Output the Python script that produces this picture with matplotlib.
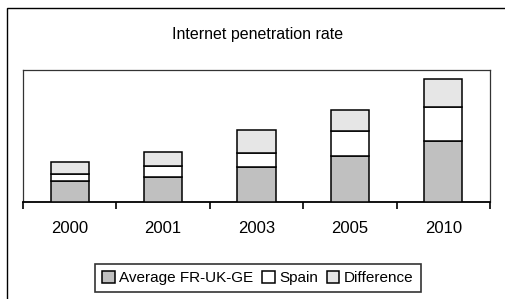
import matplotlib
matplotlib.use("Agg")
import matplotlib.pyplot as plt
from matplotlib.patches import Rectangle
import numpy as np

years = ["2000", "2001", "2003", "2005", "2010"]
avg_fr_uk_ge = [15.9, 19.2, 26.7, 34.6, 46.4]
spain = [5.3, 8.1, 10.4, 19.5, 25.5]
difference = [9.1, 10.4, 17.4, 15.7, 21.4]
series_labels = ["Average FR-UK-GE", "Spain", "Difference"]
title = "Internet penetration rate"

W, H = 505, 299
fig = plt.figure(figsize=(W / 100, H / 100), dpi=100)
fig.patch.set_facecolor("white")

narrow = ["Liberation Sans Narrow", "Liberation Sans", "DejaVu Sans"]
regular = ["Liberation Sans", "DejaVu Sans"]

# outer chart border (cut off at right and bottom)
fig.add_artist(Rectangle((7 / W, -0.1), 1.2, 1 - 8 / H + 0.1, transform=fig.transFigure,
                         fill=False, edgecolor="black", linewidth=1.0))

ax = fig.add_axes([23 / W, 1 - 202 / H, 467 / W, 132 / H])
x = np.arange(len(years))
bw = 0.41
a = np.array(avg_fr_uk_ge)
s = np.array(spain)
d = np.array(difference)
ax.bar(x, a, bw, color="#c0c0c0", edgecolor="black", linewidth=1.1, label=series_labels[0], zorder=3)
ax.bar(x, s, bw, bottom=a, color="white", edgecolor="black", linewidth=1.1, label=series_labels[1], zorder=3)
ax.bar(x, d, bw, bottom=a + s, color="#e6e6e6", edgecolor="black", linewidth=1.1, label=series_labels[2], zorder=3)

ax.set_xlim(-0.5, len(years) - 0.5)
ax.set_ylim(0, 100)
ax.set_yticks([])
ax.set_xticks(x)
ax.set_xticklabels(years, fontsize=12, family=regular)
ax.tick_params(axis="x", which="major", length=0, pad=14)
ax.set_xticks(np.arange(-0.5, len(years)), minor=True)
ax.tick_params(axis="x", which="minor", length=5, width=1.2, direction="out", color="black")
for sp in ["top", "left", "right"]:
    ax.spines[sp].set_color("#333333")
    ax.spines[sp].set_linewidth(0.9)
ax.spines["bottom"].set_color("black")
ax.spines["bottom"].set_linewidth(1.3)

fig.text(258 / W, 1 - 34.5 / H, title, ha="center", va="center", fontsize=11.5, family=narrow)

leg = fig.legend(loc="center", bbox_to_anchor=(258 / W, 1 - 278 / H), ncol=3,
                 prop={"family": narrow, "size": 11}, frameon=True, fancybox=False,
                 handlelength=0.8, handleheight=0.8, handletextpad=0.3, columnspacing=0.6,
                 borderpad=0.45)
leg.get_frame().set_edgecolor("black")
leg.get_frame().set_linewidth(1.2)

fig.savefig("out.png", dpi=100)
